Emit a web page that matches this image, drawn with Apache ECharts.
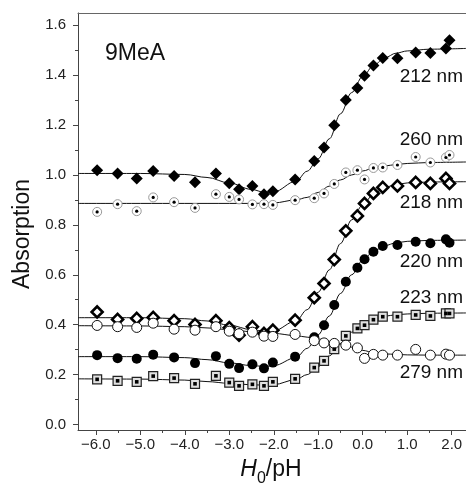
<!DOCTYPE html>
<html>
<head>
<meta charset="utf-8">
<script src="https://cdn.jsdelivr.net/npm/echarts@6/dist/echarts.min.js"></script>
<style>html,body{margin:0;padding:0;background:#fff}#c{width:466px;height:488px}</style>
</head>
<body>
<div id="c"></div>
<script>
// ---- data ----
const hValues = [-5.97, -5.51, -5.08, -4.71, -4.24, -3.77, -3.30, -3.00, -2.78, -2.48, -2.22, -2.02, -1.52, -1.09, -0.87, -0.64, -0.38, -0.12, 0.04, 0.24, 0.45, 0.78, 1.19, 1.52, 1.87, 1.95];
const abs212 = [1.019, 1.006, 0.986, 1.016, 0.996, 0.971, 1.006, 0.967, 0.943, 0.956, 0.923, 0.935, 0.982, 1.056, 1.110, 1.199, 1.300, 1.348, 1.398, 1.439, 1.469, 1.468, 1.491, 1.489, 1.507, 1.540];
const abs260 = [0.852, 0.883, 0.855, 0.910, 0.891, 0.868, 0.923, 0.912, 0.902, 0.882, 0.883, 0.880, 0.899, 0.907, 0.926, 0.964, 1.010, 1.019, 0.982, 1.028, 1.030, 1.040, 1.072, 1.050, 1.070, 1.080];
const abs218 = [0.451, 0.421, 0.425, 0.429, 0.416, 0.401, 0.416, 0.388, 0.358, 0.392, 0.365, 0.378, 0.418, 0.508, 0.565, 0.661, 0.776, 0.836, 0.886, 0.926, 0.950, 0.956, 0.970, 0.966, 0.986, 0.966];
const abs220 = [0.278, 0.266, 0.264, 0.280, 0.269, 0.246, 0.274, 0.243, 0.226, 0.241, 0.225, 0.248, 0.272, 0.350, 0.398, 0.479, 0.572, 0.628, 0.662, 0.692, 0.715, 0.719, 0.732, 0.726, 0.742, 0.728];
const abs223 = [0.181, 0.175, 0.171, 0.194, 0.186, 0.163, 0.195, 0.168, 0.155, 0.161, 0.155, 0.171, 0.183, 0.228, 0.255, 0.302, 0.355, 0.385, 0.398, 0.420, 0.432, 0.432, 0.439, 0.435, 0.445, 0.445];
const abs279 = [0.397, 0.392, 0.389, 0.406, 0.382, 0.378, 0.392, 0.374, 0.364, 0.370, 0.354, 0.353, 0.361, 0.336, 0.327, 0.325, 0.318, 0.307, 0.265, 0.281, 0.278, 0.278, 0.301, 0.278, 0.282, 0.278];

// fitted curves
const fitX   = [-6.4, -5, -4, -3.5, -3, -2.5, -2.2, -2, -1.5, -1.25, -1, -0.75, -0.5, -0.25, 0, 0.25, 0.5, 0.75, 1, 1.5, 2.32];
const fit212 = [1.006, 1.006, 1.002, 0.99, 0.968, 0.942, 0.93, 0.932, 0.975, 1.015, 1.065, 1.145, 1.245, 1.33, 1.395, 1.44, 1.47, 1.488, 1.497, 1.504, 1.507];
const fit260 = [0.886, 0.886, 0.886, 0.886, 0.886, 0.886, 0.887, 0.888, 0.9, 0.91, 0.93, 0.955, 0.98, 1.0, 1.016, 1.028, 1.036, 1.042, 1.046, 1.05, 1.052];
const fit218 = [0.428, 0.428, 0.424, 0.415, 0.398, 0.38, 0.374, 0.376, 0.415, 0.46, 0.53, 0.62, 0.725, 0.82, 0.88, 0.925, 0.95, 0.962, 0.968, 0.972, 0.973];
const fit220 = [0.272, 0.272, 0.268, 0.26, 0.247, 0.236, 0.233, 0.236, 0.268, 0.305, 0.36, 0.435, 0.525, 0.6, 0.658, 0.695, 0.717, 0.728, 0.734, 0.738, 0.739];
const fit223 = [0.183, 0.182, 0.178, 0.172, 0.165, 0.159, 0.158, 0.16, 0.18, 0.2, 0.232, 0.275, 0.325, 0.37, 0.402, 0.422, 0.434, 0.44, 0.443, 0.446, 0.447];
const fit279 = [0.396, 0.395, 0.392, 0.387, 0.38, 0.372, 0.368, 0.365, 0.356, 0.35, 0.343, 0.333, 0.322, 0.31, 0.297, 0.288, 0.283, 0.281, 0.279, 0.278, 0.278];

const xMajor = [-6, -5, -4, -3, -2, -1, 0, 1, 2];
const xMinor = [-5.5, -4.5, -3.5, -2.5, -1.5, -0.5, 0.5, 1.5];
const yMajor = [0, 0.2, 0.4, 0.6, 0.8, 1.0, 1.2, 1.4, 1.6];
const yMinor = [0.1, 0.3, 0.5, 0.7, 0.9, 1.1, 1.3, 1.5];
const curveLabels = ['212 nm', '260 nm', '218 nm', '220 nm', '223 nm', '279 nm'];
const sampleLabel = '9MeA';

// ---- layout ----
const FONT = "'Liberation Sans', Arial, Helvetica, sans-serif";
const X_MIN = -6.40, X_MAX = 2.321, Y_MIN = -0.022, Y_MAX = 1.649;
const AX = '#444';
const pts = v => hValues.map((h, i) => [h, v[i]]);
const fit = v => fitX.map((h, i) => [h, v[i]]);
const minus = v => (v < 0 ? '\u2212' + (-v).toFixed(1) : v.toFixed(1));

function lineS(v) {
  return { type: 'line', data: fit(v), smooth: 0.35, smoothMonotone: 'x', showSymbol: false, symbol: 'none',
    lineStyle: { color: '#111', width: 1 }, z: 2, silent: true };
}
function scat(v, o) {
  const s = Object.assign({ type: 'scatter', data: pts(v), z: 3, silent: true }, o);
  s.itemStyle = Object.assign({ opacity: 1 }, s.itemStyle);
  return s;
}

const chart = echarts.init(document.getElementById('c'), null, { renderer: 'canvas' });
const labelY = [77, 140, 203, 262, 298, 373];
chart.setOption({
  animation: false,
  backgroundColor: '#fff',
  grid: { left: 78, right: 0, top: 13, bottom: 58, containLabel: false },
  xAxis: [
    { type: 'value', min: X_MIN, max: X_MAX, position: 'bottom',
      axisLine: { show: true, onZero: false, lineStyle: { color: AX, width: 1 } },
      axisTick: { show: true, length: 5, customValues: xMajor, lineStyle: { color: AX } },
      axisLabel: { customValues: xMajor, formatter: minus, margin: 7, fontSize: 15, color: '#222', fontFamily: FONT },
      splitLine: { show: false } },
    { type: 'value', min: X_MIN, max: X_MAX, position: 'bottom',
      axisLine: { show: false, onZero: false },
      axisTick: { show: true, length: 3, customValues: xMinor, lineStyle: { color: AX } },
      axisLabel: { show: false }, splitLine: { show: false } },
    { type: 'value', min: X_MIN, max: X_MAX, position: 'top',
      axisLine: { show: true, onZero: false, lineStyle: { color: '#666', width: 1 } },
      axisTick: { show: false }, axisLabel: { show: false }, splitLine: { show: false } }
  ],
  yAxis: [
    { type: 'value', min: Y_MIN, max: Y_MAX, position: 'left',
      axisLine: { show: true, onZero: false, lineStyle: { color: AX, width: 1 } },
      axisTick: { show: true, length: 5, customValues: yMajor, lineStyle: { color: AX } },
      axisLabel: { customValues: yMajor, formatter: v => v.toFixed(1), margin: 12, fontSize: 15, color: '#222', fontFamily: FONT },
      splitLine: { show: false } },
    { type: 'value', min: Y_MIN, max: Y_MAX, position: 'left',
      axisLine: { show: false, onZero: false },
      axisTick: { show: true, length: 3, customValues: yMinor, lineStyle: { color: AX } },
      axisLabel: { show: false }, splitLine: { show: false } }
  ],
  series: [
    lineS(fit212), lineS(fit260), lineS(fit218), lineS(fit220), lineS(fit223), lineS(fit279),
    scat(abs212, { symbol: 'diamond', symbolSize: 12, itemStyle: { color: '#000' } }),
    scat(abs260, { symbol: 'circle', symbolSize: 9, itemStyle: { color: '#fff', borderColor: '#999', borderWidth: 1 } }),
    scat(abs260, { symbol: 'circle', symbolSize: 3.2, itemStyle: { color: '#000' }, z: 4 }),
    scat(abs218, { symbol: 'diamond', symbolSize: 11, itemStyle: { color: '#fff', borderColor: '#000', borderWidth: 2.6 } }),
    scat(abs220, { symbol: 'circle', symbolSize: 10, itemStyle: { color: '#000' } }),
    scat(abs223, { symbol: 'rect', symbolSize: 9, itemStyle: { color: '#e0e0e0', borderColor: '#222', borderWidth: 1.2 } }),
    scat(abs223, { symbol: 'rect', symbolSize: 3.6, itemStyle: { color: '#000' }, z: 4 }),
    scat(abs279, { symbol: 'circle', symbolSize: 10, itemStyle: { color: '#fff', borderColor: '#111', borderWidth: 1 } })
  ],
  graphic: [
    { type: 'text', x: 105, y: 54, silent: true,
      style: { text: sampleLabel, font: '23px ' + FONT, fill: '#111', textAlign: 'left', textVerticalAlign: 'middle' } },
    { type: 'text', x: 23, y: 234, rotation: Math.PI / 2, silent: true,
      style: { text: 'Absorption', font: '23px ' + FONT, fill: '#111', textAlign: 'center', textVerticalAlign: 'middle' } },
    { type: 'text', x: 271, y: 470, silent: true,
      style: { text: '{i|H}{s|0}{n|/pH}', textAlign: 'center', textVerticalAlign: 'middle', fill: '#111',
        rich: {
          i: { fontSize: 23, fontStyle: 'italic', fontFamily: FONT, lineHeight: 34, fill: '#111' },
          s: { fontSize: 16, fontFamily: FONT, lineHeight: 16, verticalAlign: 'bottom', fill: '#111' },
          n: { fontSize: 23, fontFamily: FONT, lineHeight: 34, fill: '#111' }
        } } }
  ].concat(curveLabels.map((t, i) => ({
    type: 'text', x: 463, y: labelY[i], silent: true,
    style: { text: t, font: '19px ' + FONT, fill: '#111', textAlign: 'right', textVerticalAlign: 'middle' }
  })))
});
</script>
</body>
</html>
